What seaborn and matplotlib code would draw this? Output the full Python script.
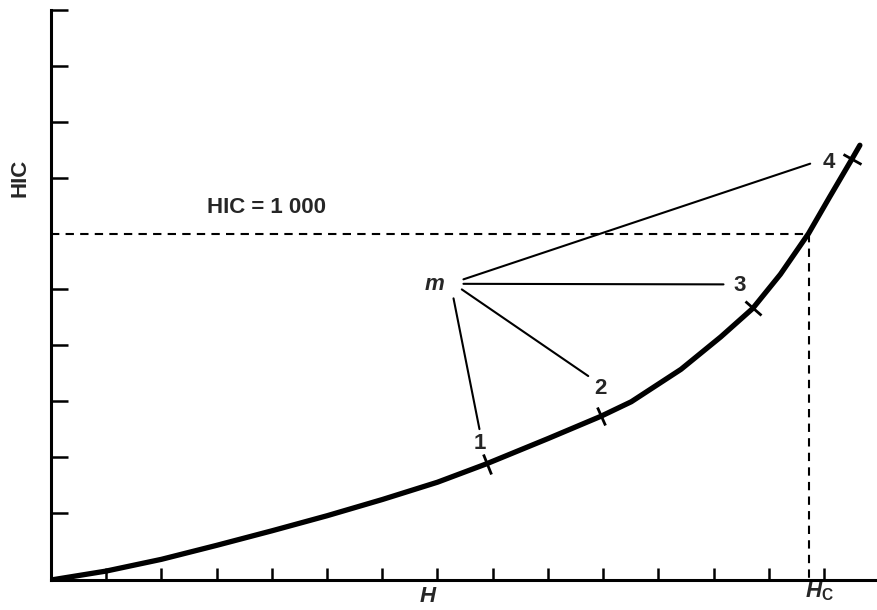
import numpy as np
import pandas as pd
import matplotlib
matplotlib.use("Agg")
import matplotlib.pyplot as plt
from matplotlib.markers import MarkerStyle
from matplotlib.transforms import Affine2D
import seaborn as sns

# curve (both axes in tick units)
h_vals = [0, 1, 2, 3, 4, 5, 6, 7, 7.89, 9.0, 9.96, 10.51, 11.41, 12.13, 12.71, 13.21, 13.72, 14.1, 14.51, 14.65]
hic_vals = [0, 0.16, 0.37, 0.62, 0.88, 1.15, 1.44, 1.75, 2.08, 2.53, 2.93, 3.19, 3.77, 4.35, 4.86, 5.47, 6.2, 6.85, 7.54, 7.78]

# the four marked points on the curve
pt_names = ["1", "2", "3", "4"]
pt_h = [7.89, 9.96, 12.71, 14.51]
pt_hic = [2.08, 2.93, 4.86, 7.54]

# number labels and the leader lines from "m"
lab_h = [7.76, 9.95, 12.47, 14.08]
lab_hic = [2.44, 3.43, 5.27, 7.47]
lead_start_h = [7.29, 7.44, 7.47, 7.47]
lead_start_hic = [5.04, 5.20, 5.30, 5.38]
lead_end_h = [7.76, 9.73, 12.18, 13.75]
lead_end_hic = [2.70, 3.65, 5.29, 7.45]
m_h, m_hic = 6.95, 5.29

hic_limit = 6.2   # HIC = 1 000
h_crit = 13.73    # H_c

x_ticks = list(range(1, 15))
y_ticks = [1.2, 2.2, 3.2, 4.2, 5.2, 7.2, 8.2, 9.2, 10.2]

sns.set_style("white")
plt.rcParams["font.family"] = ["Liberation Sans", "DejaVu Sans"]
plt.rcParams["mathtext.fontset"] = "custom"
plt.rcParams["mathtext.it"] = "Liberation Sans:italic:bold"
plt.rcParams["mathtext.rm"] = "Liberation Sans:bold"

curve = pd.DataFrame({"H": h_vals, "HIC": hic_vals})

fig = plt.figure(figsize=(8.77, 6.1), dpi=100)
ax = fig.add_axes([51 / 877, 30 / 610, 826 / 877, 570 / 610])

# dashed guide lines for HIC = 1000 and H_c
ax.plot([0, h_crit], [hic_limit, hic_limit], color="black", lw=1.5, ls=(0, (4, 3)))
ax.plot([h_crit, h_crit], [hic_limit, 0], color="black", lw=1.5, ls=(0, (4, 3)))

sns.lineplot(data=curve, x="H", y="HIC", sort=False, estimator=None,
             color="black", lw=3.8, ax=ax, zorder=5, solid_joinstyle="round")

# short cross marks on the curve, perpendicular to it
slope = np.gradient(np.array(hic_vals), np.array(h_vals))
for h, v in zip(pt_h, pt_hic):
    ang = np.degrees(np.arctan(np.interp(h, h_vals, slope)))
    mk = MarkerStyle("|", transform=Affine2D().rotate_deg(ang))
    ax.plot([h], [v], marker=mk, markersize=15, mew=2, color="black", zorder=6)

# leader lines from m
for x0, y0, x1, y1 in zip(lead_start_h, lead_start_hic, lead_end_h, lead_end_hic):
    ax.plot([x0, x1], [y0, y1], color="black", lw=1.5)

for name, x, y in zip(pt_names, lab_h, lab_hic):
    ax.text(x, y, name, ha="center", va="center", fontsize=16, fontweight="bold")
ax.text(m_h, m_hic, "m", ha="center", va="center", fontsize=16, style="italic", fontweight="bold")
ax.text(2.83, 6.66, "HIC = 1 000", ha="left", va="center", fontsize=16, fontweight="bold")
ax.text(6.84, -0.4, "$H$", ha="center", va="baseline", fontsize=16)
ax.text(13.92, -0.32, r"$H_{\mathrm{C}}$", ha="center", va="baseline", fontsize=16)
ax.text(-0.56, 7.2, "HIC", ha="center", va="center", rotation=90, fontsize=16, fontweight="bold")

ax.set_xlim(0, 14.96)
ax.set_ylim(0, 10.2)
ax.set_xticks(x_ticks)
ax.set_yticks(y_ticks)
ax.set_xticklabels([])
ax.set_yticklabels([])
ax.set_xlabel("")
ax.set_ylabel("")
ax.tick_params(axis="x", direction="in", length=9, width=1.8, color="black", bottom=True)
ax.tick_params(axis="y", direction="in", length=12, width=1.8, color="black", left=True)
for s in ["top", "right"]:
    ax.spines[s].set_visible(False)
for s in ["left", "bottom"]:
    ax.spines[s].set_linewidth(2.2)
    ax.spines[s].set_color("black")

fig.savefig("out.png", dpi=100)
